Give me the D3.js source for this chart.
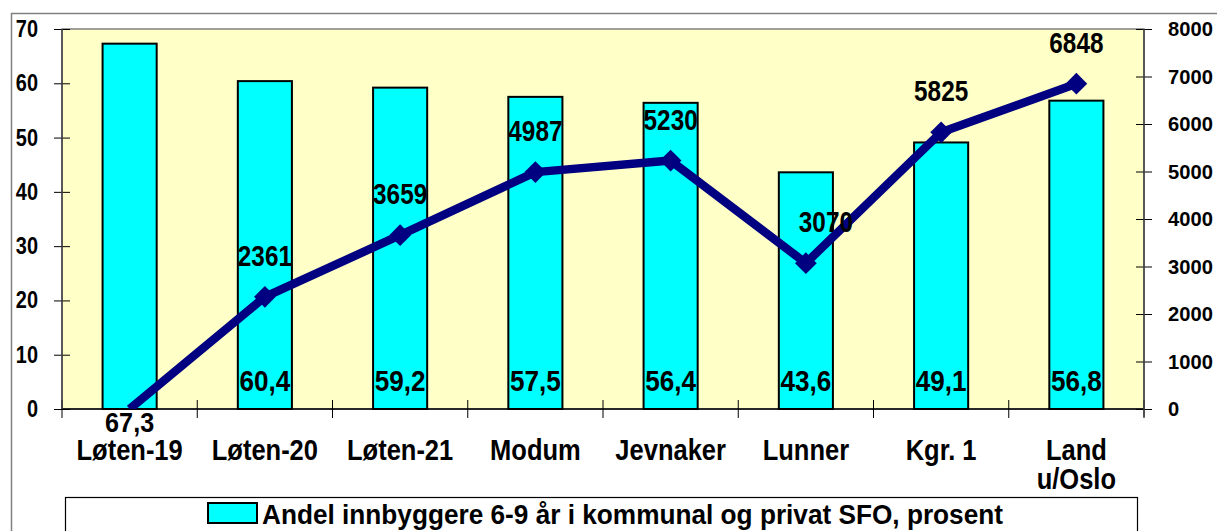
<!DOCTYPE html>
<html>
<head>
<meta charset="utf-8">
<script src="https://cdn.jsdelivr.net/npm/d3@7"></script>
<style>
  body { margin: 0; background: #fff; }
  svg text { font-family: "Liberation Sans", Arial, sans-serif; font-weight: bold; fill: #000; }
</style>
</head>
<body>
<svg id="chart" width="1217" height="531"></svg>
<script>
"use strict";

/* chart data */
const categories = ["Løten-19", "Løten-20", "Løten-21", "Modum", "Jevnaker", "Lunner", "Kgr. 1", "Land u/Oslo"];
const sfoShare = [67.3, 60.4, 59.2, 57.5, 56.4, 43.6, 49.1, 56.8];
const lineValues = [0, 2361, 3659, 4987, 5230, 3070, 5825, 6848];
const leftTicks = [0, 10, 20, 30, 40, 50, 60, 70];
const rightTicks = [0, 1000, 2000, 3000, 4000, 5000, 6000, 7000, 8000];
const legendLabel = "Andel innbyggere 6-9 år i kommunal og privat SFO, prosent";

const svg = d3.select("#chart");

// plot area
const plotL = 62, plotR = 1144, plotT = 29, plotB = 409;

// outer chart frame (only top and left show in the window)
svg.append("path")
  .attr("d", "M11.5,531 V13.5 H1217")
  .attr("fill", "none")
  .attr("stroke", "#808080")
  .attr("stroke-width", 1.5);

svg.append("rect")
  .attr("x", plotL).attr("y", plotT)
  .attr("width", plotR - plotL).attr("height", plotB - plotT)
  .attr("fill", "#FFFFC8")
  .attr("stroke", "#808080")
  .attr("stroke-width", 1.5);

// clip for the line series, so the zero point does not spill under the axis
svg.append("clipPath").attr("id", "plot-clip")
  .append("rect")
  .attr("x", plotL).attr("y", 0)
  .attr("width", plotR - plotL).attr("height", plotB);

const x = d3.scaleBand()
  .domain(categories)
  .range([plotL, plotR]);

const yLeft = d3.scaleLinear().domain([0, 70]).range([plotB, plotT]);
const yRight = d3.scaleLinear().domain([0, 8000]).range([plotB, plotT]);

/* bars */
const barW = x.bandwidth() * 0.4;
svg.append("g")
  .selectAll("rect")
  .data(sfoShare)
  .enter()
  .append("rect")
  .attr("x", (d, i) => x(categories[i]) + (x.bandwidth() - barW) / 2)
  .attr("y", d => yLeft(d))
  .attr("width", barW)
  .attr("height", d => yLeft(0) - yLeft(d))
  .attr("fill", "#00FFFF")
  .attr("stroke", "#000")
  .attr("stroke-width", 2);

/* axes */
function crossTicks(sel) {
  sel.select(".domain").remove();
  sel.selectAll(".tick line").attr("stroke", "#000");
}

svg.append("g")
  .attr("transform", `translate(${plotL},0)`)
  .call(d3.axisLeft(yLeft).tickValues(leftTicks).tickSize(8).tickFormat(""))
  .call(crossTicks)
  .call(g => g.selectAll(".tick line").attr("x2", -8).attr("x1", 8));

svg.append("g")
  .attr("transform", `translate(${plotR},0)`)
  .call(d3.axisRight(yRight).tickValues(rightTicks).tickSize(8).tickFormat(""))
  .call(crossTicks)
  .call(g => g.selectAll(".tick line").attr("x1", -8).attr("x2", 8));

// category boundary ticks on the x axis
const boundaries = categories.map(c => x(c)).concat([plotR]);
svg.append("g")
  .selectAll("line")
  .data(boundaries)
  .enter()
  .append("line")
  .attr("x1", d => d).attr("x2", d => d)
  .attr("y1", plotB - 9).attr("y2", plotB + 9)
  .attr("stroke", "#000");

svg.append("line")
  .attr("x1", plotL).attr("x2", plotR)
  .attr("y1", plotB).attr("y2", plotB)
  .attr("stroke", "#000").attr("stroke-width", 1.5);
svg.append("line")
  .attr("x1", plotL).attr("x2", plotL)
  .attr("y1", plotT).attr("y2", plotB)
  .attr("stroke", "#404040").attr("stroke-width", 1.5);
svg.append("line")
  .attr("x1", plotR).attr("x2", plotR)
  .attr("y1", plotT).attr("y2", plotB + 8)
  .attr("stroke", "#404040").attr("stroke-width", 1.5);

// tick labels
svg.append("g")
  .selectAll("text")
  .data(leftTicks)
  .enter()
  .append("text")
  .attr("transform", d => `translate(38,${yLeft(d) + 8}) scale(0.83,1)`)
  .attr("text-anchor", "end")
  .style("font-size", "24px")
  .text(d => d);

svg.append("g")
  .selectAll("text")
  .data(rightTicks)
  .enter()
  .append("text")
  .attr("transform", d => `translate(1168,${yRight(d) + 7}) scale(0.96,1)`)
  .style("font-size", "21px")
  .text(d => d);

// category labels (wrap "Land u/Oslo")
const catLabels = svg.append("g")
  .selectAll("text")
  .data(categories)
  .enter()
  .append("text")
  .attr("transform", d => `translate(${x(d) + x.bandwidth() / 2},460) scale(0.85,1)`)
  .attr("text-anchor", "middle")
  .style("font-size", "30px");

catLabels.each(function (d) {
  const words = d === "Land u/Oslo" ? ["Land", "u/Oslo"] : [d];
  const t = d3.select(this);
  words.forEach((w, i) => {
    t.append("tspan").attr("x", 0).attr("dy", i === 0 ? 0 : 29).text(w);
  });
});

/* line with diamond markers */
const line = d3.line()
  .x((d, i) => x(categories[i]) + x.bandwidth() / 2)
  .y(d => yRight(d));

const lineG = svg.append("g").attr("clip-path", "url(#plot-clip)");

lineG.append("path")
  .datum(lineValues)
  .attr("d", line)
  .attr("fill", "none")
  .attr("stroke", "#000080")
  .attr("stroke-width", 8.5)
  .attr("stroke-linejoin", "round");

// no marker is shown for the zero point
lineG.selectAll(".marker")
  .data(lineValues.map((v, i) => ({ v, i })).filter(d => d.v > 0))
  .enter()
  .append("path")
  .attr("class", "marker")
  .attr("d", d3.symbol().type(d3.symbolDiamond2).size(300))
  .attr("transform", d => `translate(${x(categories[d.i]) + x.bandwidth() / 2},${yRight(d.v)})`)
  .attr("fill", "#000080");

// line value labels (first point has none shown)
svg.append("g")
  .selectAll("text")
  .data(lineValues.map((v, i) => ({ v, i })).filter(d => d.v > 0))
  .enter()
  .append("text")
  .attr("transform", d => {
    const nudge = categories[d.i] === "Lunner" ? 20 : 0;
    return `translate(${x(categories[d.i]) + x.bandwidth() / 2 + nudge},${yRight(d.v) - 31}) scale(0.81,1)`;
  })
  .attr("text-anchor", "middle")
  .style("font-size", "30px")
  .text(d => d.v);

// bar value labels, inside the bar base (first one sits below the axis)
svg.append("g")
  .selectAll("text")
  .data(sfoShare)
  .enter()
  .append("text")
  .attr("transform", (d, i) => `translate(${x(categories[i]) + x.bandwidth() / 2},${i === 0 ? 432 : 391}) scale(0.9,1)`)
  .attr("text-anchor", "middle")
  .style("font-size", (d, i) => i === 0 ? "28px" : "29px")
  .text(d => String(d).replace(".", ","));

/* legend */
svg.append("rect")
  .attr("x", 65.5).attr("y", 497.5)
  .attr("width", 1072).attr("height", 60)
  .attr("fill", "#fff")
  .attr("stroke", "#000")
  .attr("stroke-width", 1.2);

svg.append("rect")
  .attr("x", 208).attr("y", 503)
  .attr("width", 49).attr("height", 20)
  .attr("fill", "#00FFFF")
  .attr("stroke", "#000")
  .attr("stroke-width", 2);

svg.append("text")
  .attr("x", 262).attr("y", 524)
  .attr("textLength", 741)
  .attr("lengthAdjust", "spacingAndGlyphs")
  .style("font-size", "28px")
  .text(legendLabel);
</script>
</body>
</html>
